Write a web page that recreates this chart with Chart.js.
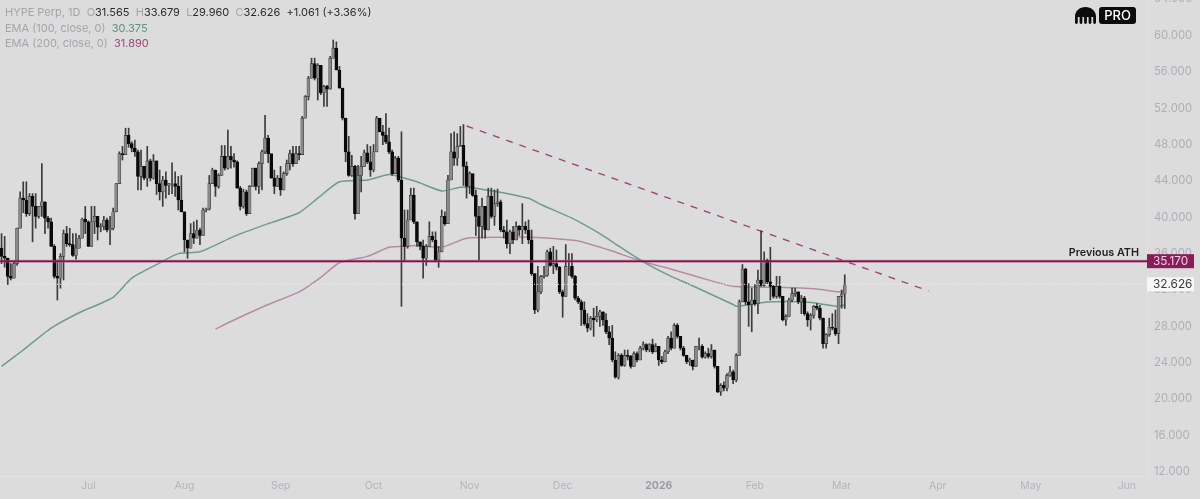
<!DOCTYPE html>
<html>
<head>
<meta charset="utf-8">
<script src="https://cdn.jsdelivr.net/npm/chart.js@4"></script>
<style>
html, body { margin: 0; padding: 0; background: #dcdcdc; }
#wrap { position: relative; width: 1200px; height: 499px; overflow: hidden; }
#legend { position: absolute; left: 5px; top: 5px; font: 11px/15.5px Inter, sans-serif; color: #a4a4ad; white-space: pre; }
#legend b { font-weight: 400; color: #2b2b2b; }
#legend .e1 { color: #5f917d; }
#legend .e2 { color: #9a4a78; }
#logo { position: absolute; left: 1075px; top: 7px; }
#pro { position: absolute; left: 1099px; top: 7px; width: 37px; height: 17px; background: #0c0c0c; border-radius: 3px; color: #fff; font: 500 13px/17px Inter, sans-serif; text-align: center; }
</style>
</head>
<body>
<div id="wrap">
	<canvas id="myChart"></canvas>
	<div id="legend">HYPE Perp, 1D  O<b>31.565</b>  H<b>33.679</b>  L<b>29.960</b>  C<b>32.626</b>  <b>+1.061 (+3.36%)</b>
EMA (100, close, 0)  <span class="e1">30.375</span>
EMA (200, close, 0)  <span class="e2">31.890</span></div>
	<svg id="logo" width="21" height="17" viewBox="0 0 21 17">
		<path d="M0 15.5V9.5C0 4 4.7 0 10.5 0S21 4 21 9.5V15.5a1.4 1.4 0 0 1-2.8 0V10H16.4V15.5a1.4 1.4 0 0 1-2.8 0V10H11.9V15.5a1.4 1.4 0 0 1-2.8 0V10H7.4V15.5a1.4 1.4 0 0 1-2.8 0V10H2.8V15.5a1.4 1.4 0 0 1-2.8 0Z" fill="#0c0c0c"/>
	</svg>
	<div id="pro">PRO</div>
</div>
<script>
const closes = [
	35.7,35.5,33.5,33.3,34.9,38.8,42.1,41.9,40.4,42.3,
	41.2,40.1,41.2,41.7,39.9,39.5,36.8,33.5,33.3,35.7,
	38.2,37.1,37.0,35.8,36.6,37.7,39.8,39.5,36.8,39.5,
	40.1,38.9,39.0,39.7,38.6,38.8,40.6,43.7,47.0,46.9,
	49.0,48.1,47.6,47.2,44.5,45.6,44.3,46.2,44.3,46.2,
	43.7,42.8,44.1,43.5,43.7,43.7,43.4,41.9,40.6,37.5,
	36.6,38.2,37.7,38.6,38.0,40.8,40.9,43.7,45.2,43.4,
	44.6,46.7,45.4,46.7,46.3,46.1,43.2,41.2,42.8,40.4,
	43.4,45.4,43.4,45.9,47.2,48.7,47.0,44.3,43.4,44.3,
	43.0,44.8,45.9,47.0,45.9,47.0,46.9,50.9,53.3,55.3,
	56.9,55.3,56.7,53.7,54.4,54.1,57.5,58.6,56.2,54.2,
	50.9,47.2,44.6,45.6,40.4,44.6,45.6,47.1,46.1,45.2,
	47.2,50.9,49.4,49.0,48.3,47.2,44.8,46.5,44.1,37.7,
	36.8,39.7,42.4,39.5,37.3,36.8,35.5,36.8,37.9,37.5,
	35.3,36.2,40.1,39.3,44.1,47.2,46.5,47.8,47.9,45.6,
	43.4,44.8,42.4,40.1,39.0,41.2,38.6,42.3,40.1,41.5,
	41.7,38.6,38.4,37.1,38.4,37.5,39.0,38.6,39.0,38.6,
	37.5,33.8,29.8,31.8,33.5,33.6,36.2,34.7,34.9,34.5,
	31.8,31.3,34.6,34.6,33.5,31.1,30.7,29.8,28.3,27.8,
	28.9,28.7,29.1,29.6,28.7,27.4,26.7,24.3,22.4,24.8,
	23.7,24.8,24.7,23.6,25.0,24.3,25.6,26.0,25.4,26.0,
	25.2,25.8,24.3,24.1,25.2,26.7,25.6,28.1,26.9,25.6,
	24.8,24.1,24.3,23.6,25.8,25.8,24.6,25.0,24.7,25.4,
	23.6,20.8,21.5,21.2,22.6,23.0,22.1,24.8,30.7,34.3,
	30.7,30.4,30.9,30.5,33.1,32.5,35.3,32.9,32.4,31.3,
	32.4,31.3,28.7,29.1,30.9,31.6,31.8,30.7,31.1,29.4,
	28.7,29.2,30.2,30.0,28.9,26.1,27.1,27.9,27.8,27.2,
	31.3,31.565,32.626
];
const highs = [
	38.2,37.9,35.5,34.9,35.1,38.8,42.8,43.9,43.9,42.6,
	42.6,42.6,41.2,45.9,41.7,40.1,39.9,37.0,35.3,36.0,
	38.6,39.0,38.8,38.2,38.2,38.0,39.9,41.2,39.6,41.2,
	41.2,40.1,39.3,40.1,39.9,40.1,41.0,43.7,47.2,47.8,
	49.8,49.8,48.3,48.5,47.4,47.4,44.8,47.8,46.4,46.9,
	46.2,45.2,44.5,45.0,43.7,46.0,45.0,44.5,44.6,40.6,
	37.5,39.3,39.5,39.7,38.8,41.0,41.0,44.6,45.4,45.2,
	44.8,47.9,47.9,49.6,47.8,47.0,46.2,43.4,43.1,43.0,
	43.5,45.4,45.4,46.1,47.4,51.2,49.0,45.9,45.2,44.6,
	45.6,45.0,46.3,47.4,47.8,47.8,47.8,51.1,53.4,55.5,
	57.5,57.5,56.9,56.7,54.5,54.5,57.7,59.5,59.3,56.6,
	54.2,50.9,48.9,46.8,45.7,45.7,46.7,47.4,48.0,47.8,
	48.0,51.1,50.7,50.1,51.4,49.8,47.4,46.7,46.7,49.4,
	40.8,40.8,43.2,43.2,39.5,37.3,37.5,37.0,39.5,38.4,
	38.4,36.8,40.8,40.6,44.6,49.2,49.4,49.2,50.0,50.2,
	46.1,45.0,43.5,43.0,41.2,42.1,41.2,43.2,43.2,43.0,
	43.1,41.9,39.0,39.7,38.6,39.0,39.5,39.1,41.5,39.5,
	39.7,38.6,33.8,34.6,33.6,34.6,36.4,36.6,36.8,36.4,
	34.6,32.0,37.0,36.0,36.0,33.6,31.3,30.9,30.7,29.4,
	29.1,30.0,30.2,29.8,29.6,29.4,28.0,28.1,25.2,25.0,
	25.0,25.4,25.4,24.8,25.2,25.2,25.8,26.3,26.1,26.1,
	26.6,26.1,25.8,24.7,25.4,26.9,27.4,28.3,28.3,26.9,
	25.8,24.8,24.5,24.3,25.8,26.7,26.0,25.2,25.6,26.0,
	25.4,23.6,21.7,21.9,22.8,23.6,23.2,25.0,30.9,34.8,
	34.4,32.7,32.2,32.6,34.2,38.5,36.2,35.4,36.7,32.5,
	33.5,33.5,31.3,29.3,31.1,32.2,32.2,31.8,31.4,31.3,
	29.6,29.4,30.3,30.5,30.3,28.9,27.2,28.9,29.4,29.8,
	31.3,32.0,33.679
];
const lows = [
	34.9,34.5,32.6,33.1,33.3,34.7,38.8,40.5,40.1,40.2,
	37.3,38.8,39.9,40.1,38.2,38.8,36.8,33.3,30.9,32.2,
	33.1,36.8,36.8,35.7,35.4,36.6,37.7,38.2,36.8,36.8,
	38.2,37.5,38.4,38.6,38.4,37.0,38.6,40.6,43.7,46.3,
	46.9,47.7,47.2,46.7,43.0,43.0,44.1,43.4,44.0,44.2,
	42.5,41.9,41.2,42.1,42.5,42.6,42.3,40.8,40.6,36.2,
	35.5,36.6,37.1,37.7,37.0,38.0,40.6,40.8,43.7,42.3,
	43.2,44.6,45.2,45.3,45.4,45.5,43.2,40.8,41.0,40.2,
	40.4,43.4,43.0,42.6,43.0,47.0,46.0,44.3,42.6,43.4,
	42.4,43.0,44.6,45.2,45.6,45.9,46.3,47.0,50.9,52.9,
	55.3,55.1,52.9,53.5,52.2,52.2,54.1,57.5,56.2,54.2,
	50.7,46.1,44.5,44.5,39.8,40.4,42.8,45.6,45.9,44.5,
	45.0,47.2,49.4,48.0,48.1,47.0,44.6,45.0,43.9,30.2,
	35.1,36.6,39.7,39.3,36.8,36.4,33.3,34.7,36.8,37.3,
	35.1,34.5,36.2,39.1,39.3,44.1,45.7,45.7,47.8,43.5,
	42.1,42.6,42.3,38.0,35.3,37.7,37.7,38.6,39.9,39.1,
	41.2,38.4,37.7,36.6,36.0,37.1,37.5,38.0,37.1,38.2,
	37.1,33.6,29.4,29.6,31.6,33.3,33.5,34.6,33.8,34.2,
	31.6,29.0,31.3,33.6,33.3,30.9,30.5,28.1,28.1,27.4,
	27.6,26.9,28.5,28.0,28.1,27.2,26.0,24.1,22.3,22.2,
	23.6,23.6,24.3,23.4,23.6,24.1,24.3,25.4,25.2,25.2,
	25.0,25.2,23.7,23.9,24.1,25.0,25.4,25.6,26.7,25.4,
	24.7,23.9,23.7,23.2,23.6,25.4,24.5,24.5,24.5,24.5,
	23.4,20.7,20.4,20.9,20.9,22.5,21.7,21.9,24.8,30.7,
	30.4,28.0,27.4,30.3,29.4,32.4,32.4,32.7,30.9,31.1,
	31.1,31.1,28.6,28.1,29.1,30.7,31.3,30.5,29.4,29.2,
	28.0,27.6,28.9,29.8,28.7,25.6,25.6,26.9,27.6,27.0,
	26.1,30.0,29.96
];
// perp candles open at the previous close
const opens = [36.6].concat(closes.slice(0, -1));

const ema100Days = [0,7,16,25,36,42,50,57,64,75,86,96,102,109,118,125,129,134,142,148,153,170,174,184,193,197,207,216,222,236,237,245,249,258,264,270,272];
const ema100 = [23.6,25.4,27.8,29.5,31.2,33.3,34.8,36.0,36.2,37.9,39.3,40.5,42.1,43.9,44.1,44.7,44.4,43.9,42.9,43.3,43.2,42.1,41.4,39.9,38.2,37.3,35.1,33.5,32.6,30.4,30.2,30.6,30.7,30.7,30.5,30.2,30.375];
const ema200Days = [69,75,86,96,103,109,118,125,129,134,142,150,161,171,180,186,196,207,215,225,236,251,263,270,272];
const ema200 = [27.7,28.7,30.4,31.8,33.4,35.0,35.7,36.7,36.8,36.9,36.7,37.7,37.8,37.8,37.6,37.4,36.4,35.1,34.4,33.4,32.4,32.3,32.1,31.8,31.89];
const trendDays = [150, 299];
const trendValues = [50.04, 31.9];

const athLevel = 35.17;
const lastClose = 32.626;
const yTicks = [12,16,20,24,28,32,36,40,44,48,52,56,60,64];
const monthNames = ['2026','Feb','Mar','Apr','May','Jun','Jul','Aug','Sep','Oct','Nov','Dec'];

// one label per day, Jun 3 2025 through Jun 7 2026
const labels = [];
for (let i = 0; i < 370; i++) {
	labels.push(new Date(Date.UTC(2025, 5, 3 + i)).toISOString().slice(0, 10));
}

const pick = (days, values) => days.map((d, i) => ({ x: labels[d], y: values[i] }));

// price lines, axis tags and the text on the ATH line
const priceLines = {
	id: 'priceLines',
	afterDatasetsDraw(chart) {
		const { ctx, chartArea, scales } = chart;
		const right = chartArea.right;
		const athY = scales.y.getPixelForValue(athLevel);
		const lastY = scales.y.getPixelForValue(lastClose);
		ctx.save();

		ctx.strokeStyle = '#eeeeee';
		ctx.setLineDash([1, 2]);
		ctx.lineWidth = 1;
		ctx.beginPath();
		ctx.moveTo(0, lastY);
		ctx.lineTo(right, lastY);
		ctx.stroke();
		ctx.setLineDash([]);

		ctx.strokeStyle = 'rgba(190,70,130,0.55)';
		ctx.lineWidth = 3;
		ctx.beginPath();
		ctx.moveTo(0, athY);
		ctx.lineTo(right, athY);
		ctx.stroke();
		ctx.strokeStyle = '#721548';
		ctx.lineWidth = 1.6;
		ctx.beginPath();
		ctx.moveTo(0, athY);
		ctx.lineTo(right, athY);
		ctx.stroke();

		ctx.font = '600 10.8px Inter, sans-serif';
		ctx.fillStyle = '#222222';
		ctx.textAlign = 'right';
		ctx.textBaseline = 'alphabetic';
		ctx.fillText('Previous ATH', right - 8, athY - 5);

		ctx.font = '11.8px Inter, sans-serif';
		ctx.textAlign = 'left';
		ctx.textBaseline = 'middle';
		ctx.fillStyle = '#891c59';
		ctx.fillRect(right, athY - 7, 47, 14);
		ctx.fillStyle = '#f2cfe0';
		ctx.fillText(athLevel.toFixed(3), right + 6, athY + 0.5);
		ctx.fillStyle = '#f7f7f7';
		ctx.fillRect(right, lastY - 7, 47, 14);
		ctx.fillStyle = '#3c3c3c';
		ctx.fillText(lastClose.toFixed(3), right + 6, lastY + 0.5);
		ctx.restore();
	}
};

const ctx = document.getElementById('myChart').getContext('2d');
const chart = new Chart(ctx, {
	type: 'bar',
	data: {
		labels: labels,
		datasets: [
			{
				label: 'Body',
				order: 1,
				data: closes.map((c, i) => [opens[i], c]),
				backgroundColor: closes.map((c, i) => (c >= opens[i] ? '#8a8a8a' : '#0a0a0a')),
				borderColor: closes.map((c, i) => (c >= opens[i] ? '#3a3a3a' : '#0a0a0a')),
				borderWidth: 0.6,
				borderSkipped: false,
				barThickness: 3,
				grouped: false
			},
			{
				label: 'Wick',
				order: 2,
				data: highs.map((h, i) => [lows[i], h]),
				backgroundColor: '#3c3c3c',
				barThickness: 1,
				grouped: false
			},
			{
				type: 'line',
				label: 'EMA 100',
				order: 3,
				data: pick(ema100Days, ema100),
				borderColor: '#6f9c8a',
				borderWidth: 1.5,
				pointRadius: 0,
				tension: 0.2
			},
			{
				type: 'line',
				label: 'EMA 200',
				order: 3,
				data: pick(ema200Days, ema200),
				borderColor: '#b88ba3',
				borderWidth: 1.5,
				pointRadius: 0,
				tension: 0.2
			},
			{
				type: 'line',
				label: 'Trend',
				order: 3,
				data: pick(trendDays, trendValues),
				borderColor: '#9c4a72',
				borderWidth: 1.4,
				borderDash: [7, 7],
				pointRadius: 0
			}
		]
	},
	options: {
		responsive: true,
		maintainAspectRatio: false,
		animation: false,
		layout: { padding: 0 },
		plugins: {
			legend: { display: false },
			tooltip: { enabled: false }
		},
		scales: {
			x: {
				grid: { display: false, drawTicks: false },
				border: { color: '#e2e2e2' },
				afterBuildTicks(scale) {
					scale.ticks = scale.ticks.filter(t => labels[t.value].endsWith('-01'));
				},
				afterFit(scale) {
					scale.height = 23;
					scale.paddingLeft = 0;
					scale.paddingRight = 0;
				},
				ticks: {
					autoSkip: false,
					maxRotation: 0,
					padding: 4,
					color: ctx => (ctx.tick.label === '2026' ? '#9a9aa4' : '#b4b4bd'),
					font: ctx => ({ family: 'Inter, sans-serif', size: 10.5, weight: ctx.tick.label === '2026' ? '700' : '400' }),
					callback(value) {
						return monthNames[parseInt(this.getLabelForValue(value).slice(5, 7), 10) - 1];
					}
				}
			},
			y: {
				position: 'right',
				min: 11.54,
				max: 63.9,
				grid: { display: false, drawTicks: false },
				border: { color: '#e2e2e2' },
				afterBuildTicks(scale) {
					scale.ticks = yTicks.map(v => ({ value: v }));
				},
				afterFit(scale) {
					scale.width = 53;
					scale.paddingTop = 0;
					scale.paddingBottom = 0;
				},
				ticks: {
					padding: 7,
					color: '#aeaeb8',
					font: { family: 'Inter, sans-serif', size: 11.3 },
					callback: value => value.toFixed(3)
				}
			}
		}
	},
	plugins: [priceLines]
});
</script>
</body>
</html>
